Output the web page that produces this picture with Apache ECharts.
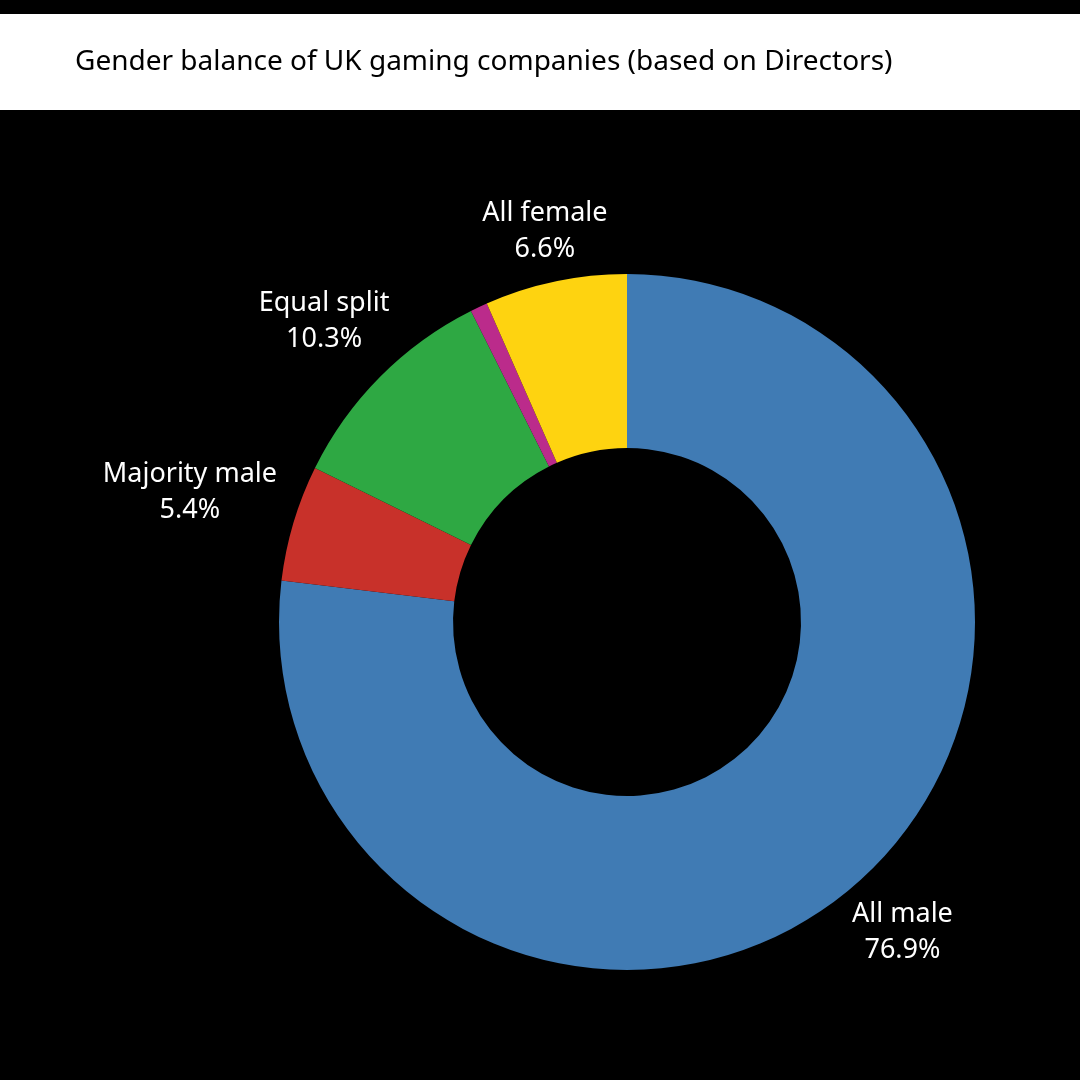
<!DOCTYPE html>
<html>
<head>
    <meta charset="UTF-8">
    <title>Gender balance of UK gaming companies</title>
    <script src="https://cdn.jsdelivr.net/npm/echarts@6/dist/echarts.min.js"></script>
    <style>
        html, body { margin: 0; padding: 0; background: #000; }
        #chart { width: 1080px; height: 1080px; }
    </style>
</head>
<body>
    <div id="chart"></div>
    <script type="text/javascript">
        // data (percent of companies)
        var categories = ['All male', 'Majority male', 'Equal split', 'Majority female', 'All female'];
        var shares = [76.9, 5.4, 10.3, 0.8, 6.6];
        var colors = ['#407bb4', '#c8312a', '#2ea843', '#bb2b8b', '#fed310'];
        var showLabel = [true, true, true, false, true];

        var cx = 627, cy = 622, outerR = 348, innerR = 174;
        var total = shares.reduce(function (a, b) { return a + b; }, 0);

        // mid angle of each slice, clockwise from 12 o'clock
        var midAngles = [];
        var acc = 0;
        shares.forEach(function (v) {
            midAngles.push((acc + v / 2) / total * Math.PI * 2);
            acc += v;
        });

        var chart = echarts.init(document.getElementById('chart'));

        var option = {
            backgroundColor: '#000',
            animation: false,
            graphic: [
                {
                    type: 'rect',
                    shape: { x: 0, y: 14, width: 1080, height: 96 },
                    style: { fill: '#fff' },
                    z: -1
                }
            ],
            title: {
                text: 'Gender balance of UK gaming companies (based on Directors)',
                left: 70,
                top: 43,
                textStyle: {
                    color: '#000',
                    fontFamily: 'Noto Sans',
                    fontWeight: 'normal',
                    fontSize: 28
                }
            },
            series: [
                {
                    name: 'Gender balance',
                    type: 'pie',
                    center: [cx, cy],
                    radius: [innerR, outerR],
                    startAngle: 90,
                    clockwise: true,
                    avoidLabelOverlap: false,
                    label: {
                        position: 'outside',
                        color: '#fff',
                        fontFamily: 'Noto Sans',
                        fontSize: 27,
                        lineHeight: 36,
                        formatter: function (p) {
                            return p.name + '\n' + p.value.toFixed(1) + '%';
                        }
                    },
                    labelLine: { show: false },
                    labelLayout: function (params) {
                        // put label box just outside the ring, centred on the slice's mid angle
                        var a = midAngles[params.dataIndex];
                        var dx = Math.sin(a), dy = -Math.cos(a);
                        var w = params.labelRect.width;
                        var d = outerR + 19 + Math.abs(dx) * w / 2 + Math.abs(dy) * 19.5;
                        return {
                            x: cx + dx * d,
                            y: cy + dy * d,
                            align: 'center',
                            verticalAlign: 'middle'
                        };
                    },
                    itemStyle: { borderWidth: 0 },
                    emphasis: { disabled: true },
                    data: categories.map(function (c, i) {
                        return {
                            name: c,
                            value: shares[i],
                            itemStyle: { color: colors[i] },
                            label: { show: showLabel[i] }
                        };
                    })
                }
            ]
        };

        chart.setOption(option);
    </script>
</body>
</html>
